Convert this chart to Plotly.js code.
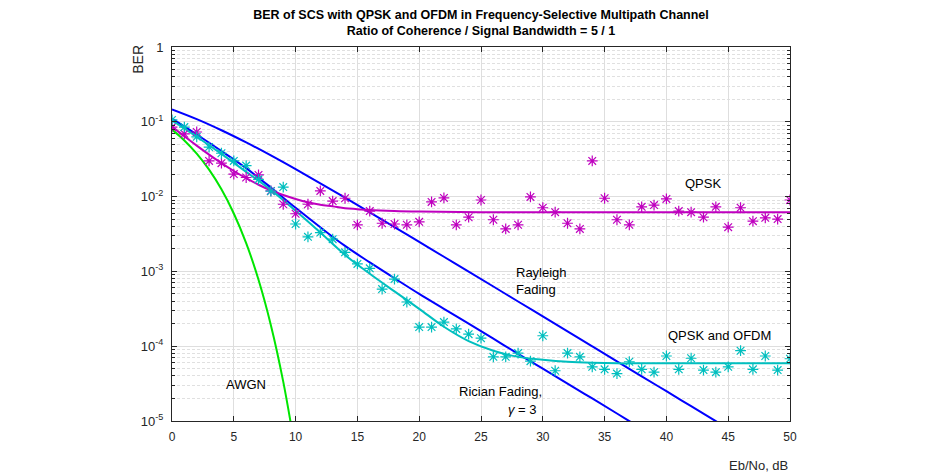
<!DOCTYPE html>
<html>
<head>
<meta charset="utf-8">
<script src="https://cdn.plot.ly/plotly-3.0.1.min.js"></script>
<style>html,body{margin:0;padding:0;background:#fff;}#chart{width:950px;height:475px;}</style>
</head>
<body>
<div id="chart"></div>
<script>
// ---- Data ----
const ebnoSim = [0,1,2,3,4,5,6,7,8,9,10,11,12,13,14,15,16,17,18,19,20,21,22,23,24,25,26,27,28,29,30,31,32,33,34,35,36,37,38,39,40,41,42,43,44,45,46,47,48,49,50];
const qpskSim = [0.085,0.069,0.073,0.030,0.028,0.020,0.018,0.0195,0.0119,0.0079,0.0059,0.0079,0.0119,0.0087,0.0095,0.0042,0.0064,0.0044,0.0043,0.0042,0.0046,0.0085,0.0096,0.0042,0.0053,0.0090,0.0049,0.0037,0.0042,0.0099,0.0071,0.0062,0.0044,0.0037,0.030,0.0095,0.0049,0.0042,0.0073,0.0077,0.0093,0.0064,0.0062,0.0053,0.0073,0.0039,0.0071,0.0047,0.0052,0.0050,0.0090];
const ofdmSim = [0.106,0.085,0.063,0.046,0.038,0.030,0.026,0.017,0.0118,0.0134,0.0043,0.0029,0.0033,0.0027,0.0018,0.00126,0.0011,0.00058,0.00079,0.00039,0.00018,0.00018,0.00021,0.00017,0.000145,0.000128,7.2e-5,7.2e-5,8.1e-5,6.3e-5,1.38e-4,4.7e-5,8.1e-5,7.2e-5,5.3e-5,4.9e-5,4.3e-5,6.2e-5,4.9e-5,4.5e-5,7.4e-5,4.9e-5,6.9e-5,4.8e-5,4.5e-5,5.3e-5,8.7e-5,4.9e-5,7.4e-5,4.8e-5,6.8e-5];

const ebnoQpskFit = [0,1,2,3,4,5,6,7,8,9,10,11,12,13,14,15,16,18,20,25,30,35,40,45,50];
const qpskFit = [0.0862,0.0640,0.0480,0.0364,0.0280,0.0220,0.0176,0.0144,0.0121,0.0105,0.0093,0.0084,0.0078,0.0074,0.0070,0.0068,0.0066,0.0064,0.0063,0.0062,0.0062,0.0062,0.0062,0.0062,0.0062];

const ebnoFit = [0,2,4,6,8,10,12,14,16,18,20,22,24,26,28,30,32,34,36,38,40,42,44,46,48,50];
const ofdmFit = [0.1047,0.0631,0.0372,0.0214,0.0123,0.00646,0.00331,0.00166,9.3e-4,5.4e-4,3.16e-4,1.82e-4,1.17e-4,8.7e-5,7.2e-5,6.6e-5,6.2e-5,6.0e-5,5.9e-5,5.9e-5,5.9e-5,5.9e-5,5.9e-5,5.9e-5,5.9e-5,5.9e-5];

const ebnoTheory = [0,2,4,6,8,10,12,14,16,18,20,22,24,26,28,30,32,34,36,38,40,42,44,46];
const rayleigh = [0.1464,0.1085,0.0771,0.0530,0.0355,0.02327,0.01505,0.00967,0.00617,0.00392,0.00248,0.00157,0.000995,0.000628,0.000396,0.00025,0.0001577,9.95e-5,6.28e-5,3.96e-5,2.5e-5,1.577e-5,9.95e-6,6.28e-6];
const rician = [0.110,0.0676,0.0407,0.0240,0.0132,0.00708,0.00389,0.00219,0.00132,8.1e-4,5.0e-4,3.16e-4,2.0e-4,1.26e-4,7.9e-5,5.0e-5,3.16e-5,2.0e-5,1.26e-5,7.9e-6,5.0e-6,3.16e-6,2.0e-6,1.26e-6];

const ebnoAwgn = [0,1,2,3,4,5,6,7,8,9,10];
const awgn = [0.0786,0.0563,0.0375,0.0229,0.0125,0.00595,0.00239,7.73e-4,1.91e-4,3.36e-5,3.87e-6];

const xTicks = [0,5,10,15,20,25,30,35,40,45,50];
const yTickVals = [1e-5,1e-4,1e-3,1e-2,1e-1,1];
const yTickText = ['10<sup>-5</sup>','10<sup>-4</sup>','10<sup>-3</sup>','10<sup>-2</sup>','10<sup>-1</sup>','1'];

// minor ticks 2..9 per decade
const yMinor = [];
for (let e = -5; e < 0; e++) { for (let m = 2; m <= 9; m++) yMinor.push(m * Math.pow(10, e)); }

const MAG = '#bf00bf', CYA = '#00bfbf', BLU = '#0000ff', GRN = '#00e600';
const lw = 2;

const traces = [
  {x: ebnoTheory, y: rayleigh, mode: 'lines', line: {color: BLU, width: lw, shape: 'spline'}},
  {x: ebnoTheory, y: rician, mode: 'lines', line: {color: BLU, width: lw, shape: 'spline'}},
  {x: ebnoAwgn, y: awgn, mode: 'lines', line: {color: GRN, width: lw, shape: 'spline'}},
  {x: ebnoQpskFit, y: qpskFit, mode: 'lines', line: {color: MAG, width: lw, shape: 'spline'}},
  {x: ebnoFit, y: ofdmFit, mode: 'lines', line: {color: CYA, width: lw, shape: 'spline'}},
  {x: ebnoSim, y: qpskSim, mode: 'markers', marker: {symbol: 'asterisk-open', size: 9, color: MAG, line: {color: MAG, width: 1.2}}},
  {x: ebnoSim, y: ofdmSim, mode: 'markers', marker: {symbol: 'asterisk-open', size: 9, color: CYA, line: {color: CYA, width: 1.2}}}
];

const FAM = 'Liberation Sans, Arial, sans-serif';
const annFont = {family: FAM, size: 13, color: '#000'};
const layout = {
  width: 950, height: 475,
  margin: {l: 172, r: 160, t: 47, b: 54},
  paper_bgcolor: '#fff', plot_bgcolor: '#fff',
  showlegend: false,
  font: {family: FAM, size: 12, color: '#262626'},
  title: {
    text: '<b>BER of SCS with QPSK and OFDM in Frequency-Selective Multipath Channel</b><br><b>Ratio of Coherence / Signal Bandwidth = 5 / 1</b>',
    font: {family: FAM, size: 12.5, color: '#000'},
    x: 0.5, xref: 'paper', xanchor: 'center', y: 0.96, yref: 'container', yanchor: 'top'
  },
  xaxis: {
    range: [0, 50], tickvals: xTicks, ticktext: xTicks.map(String),
    ticks: 'inside', ticklen: 5, tickcolor: '#262626', ticklabelstandoff: 5,
    showline: true, linecolor: '#262626', linewidth: 1, mirror: 'ticks',
    showgrid: true, gridcolor: '#dedede', gridwidth: 1, zeroline: false,
    tickfont: {family: FAM, size: 12, color: '#262626'}
  },
  yaxis: {
    type: 'log', range: [-5, 0], tickvals: yTickVals, ticktext: yTickText,
    ticks: 'inside', ticklen: 5, tickcolor: '#262626', ticklabelstandoff: 5,
    showline: true, linecolor: '#262626', linewidth: 1, mirror: 'ticks',
    showgrid: true, gridcolor: '#dedede', gridwidth: 1, zeroline: false,
    tickfont: {family: FAM, size: 13, color: '#262626'},
    minor: {tickmode: 'array', tickvals: yMinor, ticks: 'inside', ticklen: 3, tickcolor: '#262626',
            showgrid: true, gridcolor: '#e0e0e0', griddash: '3px,2px', gridwidth: 1}
  },
  annotations: [
    {text: 'BER', xref: 'paper', yref: 'paper', x: -0.055, y: 1.01, xanchor: 'center', yanchor: 'top', textangle: -90, showarrow: false, font: {family: FAM, size: 14, color: '#262626'}},
    {text: 'Eb/No, dB', xref: 'paper', yref: 'paper', x: 1.0, y: -0.12, xanchor: 'right', yanchor: 'middle', showarrow: false, font: {family: FAM, size: 13, color: '#262626'}},
    {text: 'QPSK', x: 43, y: -1.83, xref: 'x', yref: 'y', showarrow: false, font: annFont},
    {text: 'Rayleigh<br>Fading', x: 27.7, y: -3.13, xref: 'x', yref: 'y', xanchor: 'left', align: 'left', showarrow: false, font: annFont},
    {text: 'QPSK and OFDM', x: 44.3, y: -3.86, xref: 'x', yref: 'y', showarrow: false, font: annFont},
    {text: 'Rician Fading,', x: 30.1, y: -4.60, xref: 'x', yref: 'y', xanchor: 'right', showarrow: false, font: annFont},
    {text: '<i>γ</i> = 3', x: 29.7, y: -4.84, xref: 'x', yref: 'y', xanchor: 'right', showarrow: false, font: annFont},
    {text: 'AWGN', x: 6.0, y: -4.51, xref: 'x', yref: 'y', showarrow: false, font: annFont}
  ]
};

Plotly.newPlot('chart', traces, layout, {displayModeBar: false, staticPlot: true});
</script>
</body>
</html>
